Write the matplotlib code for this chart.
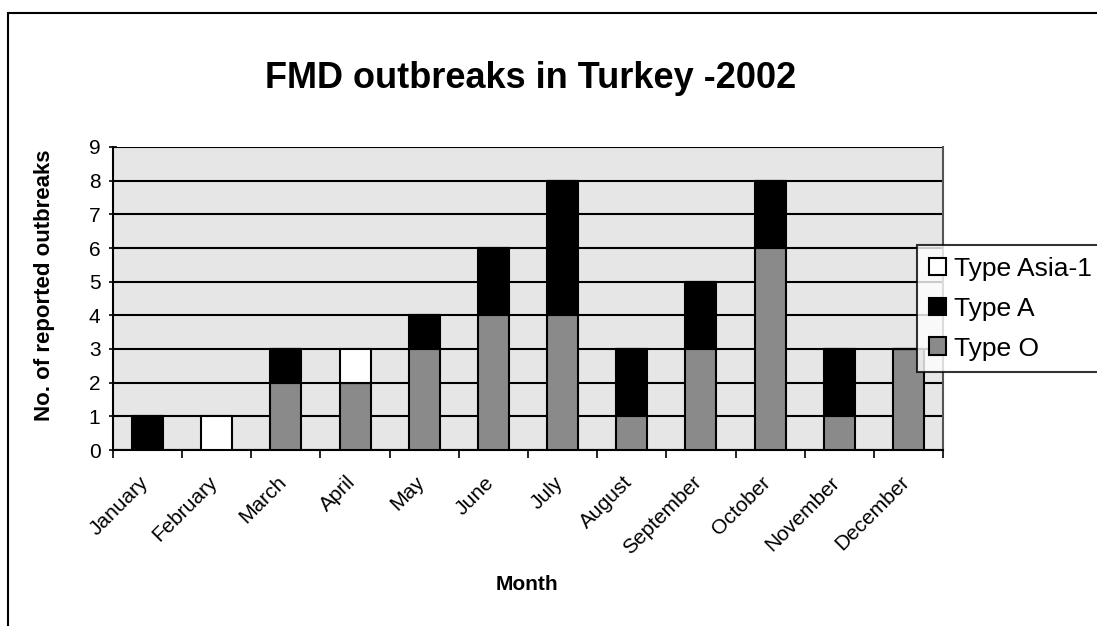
import matplotlib
matplotlib.use("Agg")
import matplotlib.pyplot as plt
import matplotlib.transforms as mtransforms
from matplotlib.patches import Rectangle, Patch
import numpy as np

plt.rcParams['font.family'] = ['Liberation Sans', 'DejaVu Sans']

months = ["January", "February", "March", "April", "May", "June", "July",
          "August", "September", "October", "November", "December"]
type_o = [0, 0, 2, 2, 3, 4, 4, 1, 3, 6, 1, 3]
type_a = [1, 0, 1, 0, 1, 2, 4, 2, 2, 2, 2, 0]
type_asia1 = [0, 1, 0, 1, 0, 0, 0, 0, 0, 0, 0, 0]
y_ticks = list(range(0, 10))

W, H = 1097, 626
fig = plt.figure(figsize=(W / 100, H / 100), dpi=100)
fig.patch.set_facecolor("white")

# outer chart frame (runs off the right and bottom edges)
fig.patches.append(Rectangle((8 / W, -0.2), 1.2, 1.2 - 13 / H, transform=fig.transFigure,
                             fill=False, edgecolor="black", linewidth=1.5))

ax = fig.add_axes([113 / W, 1 - 450 / H, (943 - 113) / W, (450 - 147) / H])
ax.set_facecolor("#e6e6e6")

x = np.arange(len(months))
bw = 0.45
o = np.array(type_o)
a = np.array(type_a)
s = np.array(type_asia1)
ax.bar(x, o, bw, color="#8a8a8a", edgecolor="black", linewidth=1.5, zorder=3, label="Type O")
ax.bar(x, a, bw, bottom=o, color="black", edgecolor="black", linewidth=1.5, zorder=3, label="Type A")
ax.bar(x, s, bw, bottom=o + a, color="white", edgecolor="black", linewidth=1.5, zorder=3, label="Type Asia-1")

ax.set_xlim(-0.5, len(months) - 0.5)
ax.set_ylim(0, 9)
ax.set_yticks(y_ticks)
ax.yaxis.grid(True, color="black", linewidth=1.5, zorder=1)
ax.set_axisbelow(True)

ax.set_xticks(x)
ax.set_xticklabels(months, rotation=45, ha="right", rotation_mode="anchor", fontsize=15)
ax.tick_params(axis="x", length=0, pad=12)
shift = mtransforms.ScaledTranslation(-9 / 100, -6 / 100, fig.dpi_scale_trans)
for lbl in ax.get_xticklabels():
    lbl.set_transform(lbl.get_transform() + shift)
ax.set_xticks(np.arange(-0.5, len(months)), minor=True)
ax.tick_params(axis="x", which="minor", length=6, width=1.2, direction="out")
ax.tick_params(axis="y", labelsize=15, length=6, width=1.2, direction="inout", pad=6)

ax.spines["top"].set_visible(False)
for side in ["left", "bottom", "right"]:
    ax.spines[side].set_linewidth(1.5)
ax.spines["right"].set_color("#555555")

fig.text(45 / W, 1 - 285 / H, "No. of reported outbreaks", fontsize=16, fontweight="bold",
         rotation=90, ha="center", va="center")
fig.text(527 / W, 1 - 585 / H, "Month", fontsize=15, fontweight="bold",
         ha="center", va="center")
fig.text(531 / W, 1 - 78 / H, "FMD outbreaks in Turkey -2002", fontsize=26,
         fontweight="bold", ha="center", va="center")

handles = [Patch(facecolor="white", edgecolor="black", linewidth=1.5, label="Type Asia-1"),
           Patch(facecolor="black", edgecolor="black", linewidth=1.5, label="Type A"),
           Patch(facecolor="#8a8a8a", edgecolor="black", linewidth=1.5, label="Type O")]
leg = fig.legend(handles=handles, loc="upper left", bbox_to_anchor=(917 / W, 1 - 245 / H),
                 fontsize=19, frameon=True, fancybox=False, handlelength=0.65,
                 handleheight=0.65, handletextpad=0.3, borderpad=0.45, labelspacing=0.6,
                 borderaxespad=0)
leg.get_frame().set_edgecolor("black")
leg.get_frame().set_linewidth(1.5)

fig.savefig("out.png", dpi=100)
